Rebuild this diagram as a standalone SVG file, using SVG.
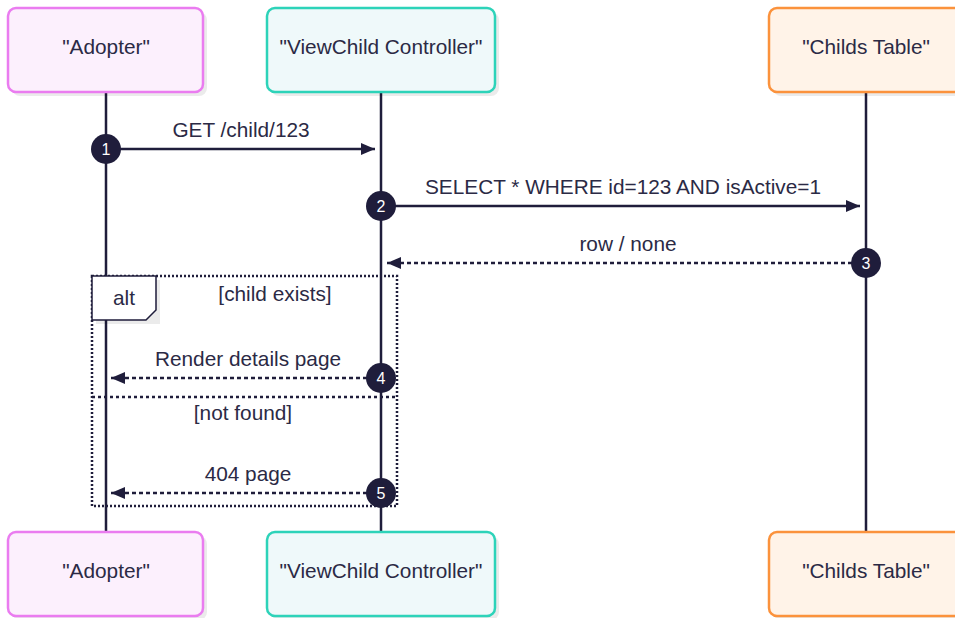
<svg xmlns="http://www.w3.org/2000/svg" width="955" height="618" viewBox="0 0 955 618">
<defs>
<style>
.t{font-family:"Liberation Sans",Arial,Helvetica,sans-serif;font-size:20.8px;fill:#2b2a45;text-anchor:middle}
.n{font-family:"Liberation Sans",Arial,Helvetica,sans-serif;font-size:16px;fill:#ffffff;text-anchor:middle}
.life{stroke:#1f1d3b;stroke-width:2.5;fill:none}
.msg{stroke:#1f1d3b;stroke-width:2.5;fill:none}
.dash{stroke-dasharray:4,3}
.num{fill:#1f1d3b}
.shadow{fill:#000;opacity:0.08}
.a1{fill:#fcf0fd;stroke:#ea7cf0;stroke-width:2.5}
.a2{fill:#eff9fa;stroke:#2dd3b9;stroke-width:2.5}
.a3{fill:#fff3e8;stroke:#fb923c;stroke-width:2.5}
</style>
<marker id="ah" viewBox="0 0 14 12" refX="14" refY="6" markerWidth="14" markerHeight="12" markerUnits="userSpaceOnUse" orient="auto">
<path d="M0,0 L14,6 L0,12 Z" fill="#1f1d3b"/>
</marker>
</defs>
<rect width="955" height="618" fill="#ffffff"/>

<g id="lifelines">
<line class="life" x1="106" y1="92" x2="106" y2="532"/>
<line class="life" x1="381" y1="92" x2="381" y2="532"/>
<line class="life" x1="866" y1="92" x2="866" y2="532"/>
</g>

<g id="actor-adopter-top">
<rect class="shadow" x="12" y="12" width="195" height="84" rx="8"/>
<rect class="a1" x="8" y="8" width="195" height="84" rx="8"/>
<text class="t" x="106" y="54">"Adopter"</text>
</g>
<g id="actor-controller-top">
<rect class="shadow" x="271" y="12" width="228" height="84" rx="8"/>
<rect class="a2" x="267" y="8" width="228" height="84" rx="8"/>
<text class="t" x="381" y="54">"ViewChild Controller"</text>
</g>
<g id="actor-table-top">
<rect class="shadow" x="773" y="12" width="194" height="84" rx="8"/>
<rect class="a3" x="769" y="8" width="194" height="84" rx="8"/>
<text class="t" x="866" y="54">"Childs Table"</text>
</g>

<g id="alt-frame">
<rect x="92" y="276" width="305" height="230" fill="none" stroke="#1f1d3b" stroke-width="2.5" stroke-dasharray="2,2"/>
<rect class="shadow" x="96" y="280" width="64" height="44"/>
<path d="M92,276 H156 V310 L146,320 H92 Z" fill="#ffffff" stroke="#1f1d3b" stroke-width="1.5"/>
<text class="t" x="124" y="305">alt</text>
<text class="t" x="275" y="301">[child exists]</text>
<line x1="92" y1="397" x2="397" y2="397" stroke="#1f1d3b" stroke-width="2.5" stroke-dasharray="3,3"/>
<text class="t" x="243" y="420">[not found]</text>
</g>

<g id="connectors">
<line class="msg" x1="106" y1="149" x2="375" y2="149" marker-end="url(#ah)"/>
<text class="t" x="241" y="137">GET /child/123</text>
<line class="msg" x1="381" y1="206" x2="860" y2="206" marker-end="url(#ah)"/>
<text class="t" x="623" y="194">SELECT * WHERE id=123 AND isActive=1</text>
<line class="msg dash" x1="866" y1="263" x2="387" y2="263" marker-end="url(#ah)"/>
<text class="t" x="628" y="251">row / none</text>
<line class="msg dash" x1="381" y1="378" x2="111" y2="378" marker-end="url(#ah)"/>
<text class="t" x="248" y="366">Render details page</text>
<line class="msg dash" x1="381" y1="493" x2="111" y2="493" marker-end="url(#ah)"/>
<text class="t" x="248" y="481">404 page</text>
</g>

<g id="sequence-numbers">
<circle class="num" cx="106" cy="149" r="15"/><text class="n" x="106" y="155">1</text>
<circle class="num" cx="381" cy="206" r="15"/><text class="n" x="381" y="212">2</text>
<circle class="num" cx="866" cy="263" r="15"/><text class="n" x="866" y="269">3</text>
<circle class="num" cx="381" cy="378" r="15"/><text class="n" x="381" y="384">4</text>
<circle class="num" cx="381" cy="493" r="15"/><text class="n" x="381" y="499">5</text>
</g>

<g id="actor-adopter-bottom">
<rect class="shadow" x="12" y="536" width="195" height="84" rx="8"/>
<rect class="a1" x="8" y="532" width="195" height="84" rx="8"/>
<text class="t" x="106" y="578">"Adopter"</text>
</g>
<g id="actor-controller-bottom">
<rect class="shadow" x="271" y="536" width="228" height="84" rx="8"/>
<rect class="a2" x="267" y="532" width="228" height="84" rx="8"/>
<text class="t" x="381" y="578">"ViewChild Controller"</text>
</g>
<g id="actor-table-bottom">
<rect class="shadow" x="773" y="536" width="194" height="84" rx="8"/>
<rect class="a3" x="769" y="532" width="194" height="84" rx="8"/>
<text class="t" x="866" y="578">"Childs Table"</text>
</g>
</svg>
